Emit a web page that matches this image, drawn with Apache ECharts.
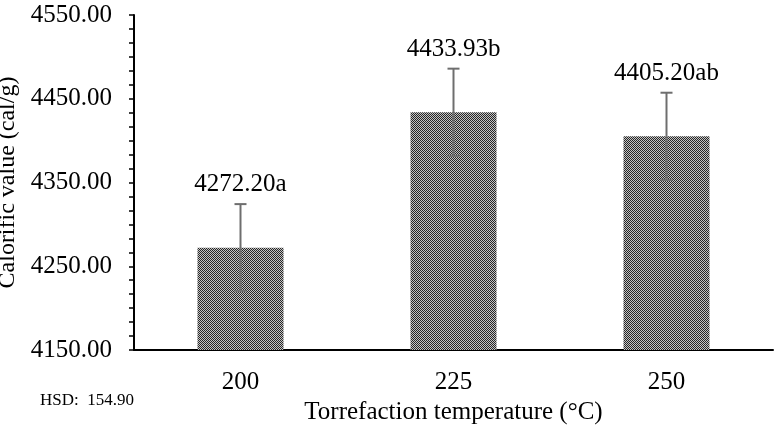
<!DOCTYPE html>
<html><head><meta charset="utf-8">
<script src="https://cdn.jsdelivr.net/npm/echarts@6/dist/echarts.min.js"></script>
<style>html,body{margin:0;padding:0;background:#fff}#c{width:779px;height:432px}</style>
</head><body><div id="c"></div>
<script>
const categories = ['200', '225', '250'];
const values = [4272.20, 4433.93, 4405.20];
const errors = [52, 52, 52];
const letters = ['a', 'b', 'ab'];
const yMin = 4150, yMax = 4550;

const font = '"Liberation Serif","Times New Roman",serif';
const pc = document.createElement('canvas');
pc.width = 2; pc.height = 2;
const pctx = pc.getContext('2d');
pctx.fillStyle = '#c4c4c4'; pctx.fillRect(0,0,2,2);
pctx.fillStyle = '#262626'; pctx.fillRect(0,0,1,1); pctx.fillRect(1,1,1,1);

const chart = echarts.init(document.getElementById('c'));
chart.setOption({
  animation: false,
  backgroundColor: '#fff',
  grid: {left: 134, right: 6, top: 15, bottom: 82, containLabel: false, outerBoundsMode: 'none'},
  xAxis: {
    type: 'category', data: categories,
    name: 'Torrefaction temperature (°C)', nameLocation: 'middle', nameGap: 50,
    nameTextStyle: {fontFamily: font, fontSize: 25, color: '#000'},
    axisLine: {lineStyle: {color: '#000', width: 2}},
    axisTick: {alignWithLabel: true, length: 6, lineStyle: {color: '#000', width: 1.5}},
    axisLabel: {fontFamily: font, fontSize: 25, color: '#000', margin: 20}
  },
  yAxis: {
    type: 'value', min: yMin, max: yMax, interval: 50,
    name: 'Calorific value (cal/g)', nameLocation: 'middle', nameGap: 100,
    nameTextStyle: {fontFamily: font, fontSize: 24, color: '#000'},
    axisLine: {show: true, lineStyle: {color: '#000', width: 2}},
    axisTick: {show: true, inside: false, length: 5, lineStyle: {color: '#000', width: 1.5}},
    minorTick: {show: true, splitNumber: 3, length: 5, lineStyle: {color: '#000', width: 1.5}},
    splitLine: {show: false},
    axisLabel: {fontFamily: font, fontSize: 25, color: '#000', margin: 22,
      formatter: v => ((v - yMin) % 100 === 0 ? v.toFixed(2) : '')}
  },
  series: [
    {
      type: 'bar', data: values, barWidth: 86,
      itemStyle: {color: {image: pc, repeat: 'repeat'}}
    },
    {
      type: 'custom',
      data: values.map((v, i) => [i, v, errors[i]]),
      z: 5,
      renderItem: function (params, api) {
        const i = api.value(0), v = api.value(1), e = api.value(2);
        const top = api.coord([i, v + e]);
        const bot = api.coord([i, v - e]);
        const x = top[0];
        const cw = 6;
        const st = {stroke: '#6e6e6e', lineWidth: 2};
        return {
          type: 'group',
          children: [
            {type: 'line', shape: {x1: x, y1: top[1], x2: x, y2: bot[1]}, style: st},
            {type: 'line', shape: {x1: x - cw, y1: top[1], x2: x + cw, y2: top[1]}, style: st},
            {type: 'line', shape: {x1: x - cw, y1: bot[1], x2: x + cw, y2: bot[1]}, style: st},
            {type: 'text', style: {
              text: v.toFixed(2) + letters[i], x: x, y: top[1] - 7,
              align: 'center', verticalAlign: 'bottom',
              font: '25px ' + font, fill: '#000'}}
          ]
        };
      }
    }
  ],
  graphic: [
    {type: 'text', left: 40, top: 392, style: {text: 'HSD:  154.90', font: '17px ' + font, fill: '#000'}}
  ]
});
</script>
</body></html>
